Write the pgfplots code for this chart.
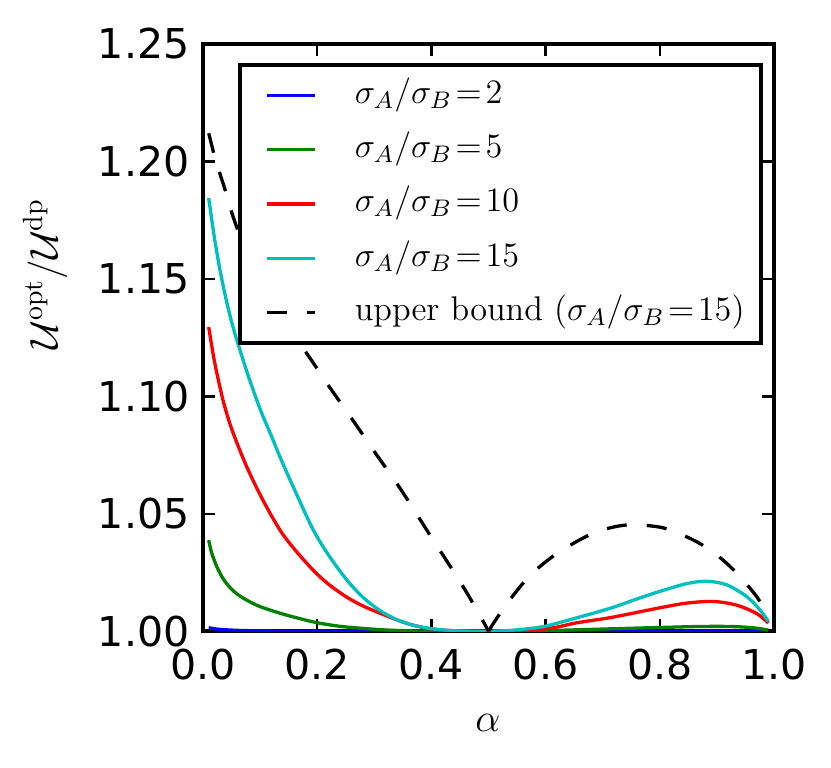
\RequirePackage{fix-cm}
\documentclass[border=0pt]{standalone}
\usepackage{fontspec}
\usepackage{pgfplots}
\pgfplotsset{compat=1.18}
\newfontfamily\dejavu{DejaVu Sans}
\definecolor{mplblue}{rgb}{0,0,1}
\definecolor{mplgreen}{rgb}{0,0.5,0}
\definecolor{mplred}{rgb}{1,0,0}
\definecolor{mplcyan}{rgb}{0,0.75,0.75}
\newcommand{\eq}{\mskip2mu{=}\mskip2mu}
\begin{document}
\begin{tikzpicture}
\begin{axis}[
  at={(0,0)}, anchor=south west,
  scale only axis, width=207.6bp, height=213.5bp,
  xmin=0, xmax=1, ymin=1.0, ymax=1.25,
  xtick={0,0.2,0.4,0.6,0.8,1.0},
  xticklabels={0.0,0.2,0.4,0.6,0.8,1.0},
  ytick={1.00,1.05,1.10,1.15,1.20,1.25},
  yticklabels={1.00,1.05,1.10,1.15,1.20,1.25},
  tick align=inside,
  major tick length=4.5bp,
  tick style={black, line width=0.9bp},
  axis line style={black, line width=1.5bp},
  ticklabel style={font=\dejavu\fontsize{15}{18}\selectfont, inner sep=0pt},
  /pgf/number format/assume math mode=true,
  xticklabel style={yshift=-6.2bp},
  yticklabel style={xshift=-4.7bp},
  every axis x label/.style={at={(rel axis cs:0.499,-0.1567)}, anchor=center},
  every axis y label/.style={at={(rel axis cs:-0.276,0.608)}, anchor=center, rotate=90},
  label style={font=\fontsize{14.5}{17}\selectfont},
  xlabel={$\alpha$},
  ylabel={$\mathcal{U}^{\mathrm{opt}}/\mathcal{U}^{\mathrm{dp}}$},
  legend image code/.code={\path (0bp,0bp); \draw[#1] (3.1bp,0bp) -- (20.7bp,0bp);},
  legend cell align=left,
  legend style={at={(rel axis cs:0.0613,0.9676)}, anchor=north west,
    draw=black, line width=1.5bp, fill=white,
    inner xsep=6bp, inner ysep=5bp,
    row sep=7.85bp, column sep=13.8bp,
    nodes={inner sep=0pt, text height=8.8bp, text depth=3.1bp},
    font=\fontsize{12.5}{15}\selectfont},
]
\addplot[mplblue, line width=1.2bp, smooth] coordinates {
(0.01,1.0015)(0.02,1.0011)(0.03,1.0008)(0.06,1.0004)(0.10,1.0002)(0.20,1.0001)(0.30,1.0000)(0.50,1.0000)(0.70,1.0000)(0.90,1.0001)(0.99,1.0000)};
\addlegendentry{$\sigma_A/\sigma_B\eq2$}
\addplot[mplgreen, line width=1.2bp, smooth] coordinates {
(0.01,1.0388)(0.015,1.0335)(0.0245,1.0273)(0.035,1.0225)(0.047,1.0187)(0.06,1.0158)(0.077,1.0132)(0.10,1.0105)(0.135,1.0077)(0.16,1.0060)(0.193,1.0040)(0.22,1.0028)(0.252,1.0018)(0.31,1.0007)(0.36,1.0002)(0.42,1.0000)(0.55,1.0000)(0.65,1.0006)(0.765,1.0014)(0.813,1.0017)(0.86,1.0020)(0.905,1.0021)(0.94,1.0019)(0.97,1.0013)(0.99,1.0005)};
\addlegendentry{$\sigma_A/\sigma_B\eq5$}
\addplot[mplred, line width=1.2bp, smooth] coordinates {
(0.01,1.1295)(0.02,1.1150)(0.035,1.0984)(0.051,1.0856)(0.077,1.0698)(0.105,1.0558)(0.135,1.0430)(0.16,1.0350)(0.193,1.0260)(0.22,1.0200)(0.252,1.0145)(0.28,1.0108)(0.31,1.0077)(0.34,1.0048)(0.368,1.0026)(0.40,1.0010)(0.44,1.0002)(0.48,1.0000)(0.52,1.0000)(0.584,1.0007)(0.62,1.0018)(0.654,1.0036)(0.713,1.0058)(0.765,1.0083)(0.80,1.0100)(0.847,1.0120)(0.894,1.0127)(0.935,1.0111)(0.97,1.0075)(0.99,1.0035)};
\addlegendentry{$\sigma_A/\sigma_B\eq10$}
\addplot[mplcyan, line width=1.2bp, smooth] coordinates {
(0.01,1.1844)(0.02,1.1675)(0.03,1.1535)(0.04,1.1418)(0.05,1.1318)(0.06,1.1234)(0.08,1.1082)(0.10,1.0946)(0.12,1.0830)(0.135,1.0741)(0.16,1.0604)(0.193,1.0432)(0.22,1.0324)(0.252,1.0218)(0.28,1.0145)(0.31,1.0088)(0.34,1.0049)(0.37,1.0025)(0.40,1.0011)(0.43,1.0004)(0.46,1.0001)(0.50,1.0000)(0.538,1.0004)(0.57,1.0011)(0.602,1.0023)(0.654,1.0057)(0.713,1.0098)(0.765,1.0142)(0.80,1.0170)(0.847,1.0203)(0.882,1.0213)(0.917,1.0198)(0.952,1.0148)(0.975,1.0092)(0.99,1.0042)};
\addlegendentry{$\sigma_A/\sigma_B\eq15$}
\addplot[black, line width=1.2bp, dash pattern=on 7.3bp off 7.3bp, smooth] coordinates {
(0.01,1.2120)(0.02,1.2025)(0.03,1.1945)(0.04,1.1870)(0.05,1.1785)(0.061,1.1708)(0.08,1.1600)(0.10,1.1495)(0.12,1.1400)(0.15,1.1290)(0.184,1.1175)(0.22,1.1045)(0.266,1.0886)(0.30,1.0765)(0.345,1.0609)(0.40,1.0400)(0.44,1.0250)(0.462,1.0164)(0.476,1.0105)(0.49,1.0045)(0.50,1.0000)};
\addlegendentry{upper bound ($\sigma_A/\sigma_B\eq15$)}
\addplot[black, line width=1.2bp, dash pattern=on 7.3bp off 7.3bp, smooth, forget plot] coordinates {
(0.50,1.0000)(0.511,1.0043)(0.529,1.0106)(0.552,1.0180)(0.576,1.0246)(0.605,1.0305)(0.63,1.0348)(0.672,1.0405)(0.70,1.0432)(0.73,1.0449)(0.759,1.0454)(0.803,1.0442)(0.832,1.0418)(0.867,1.0378)(0.897,1.0330)(0.923,1.0276)(0.946,1.0217)(0.970,1.0146)(0.99,1.0065)};
\end{axis}
\pgfresetboundingbox
\path (-73.8bp,-49.5bp) rectangle (228.3bp,229.5bp);
\end{tikzpicture}
\end{document}
